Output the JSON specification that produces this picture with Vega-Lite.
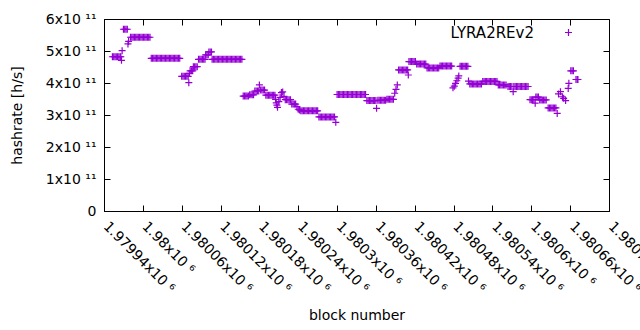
{
 "$schema": "https://vega.github.io/schema/vega-lite/v6.json",
 "autosize": {"type": "none"},
 "padding": {"left": 104, "top": 19, "right": 31, "bottom": 119},
 "width": 505,
 "height": 192,
 "background": "white",
 "config": {
  "view": {"stroke": "black", "strokeWidth": 1},
  "font": "DejaVu Sans",
  "axis": {"grid": false, "domainColor": "black", "domainWidth": 1, "tickColor": "black", "tickWidth": 1, "tickSize": -6, "labelColor": "black", "titleColor": "black", "labelFont": "DejaVu Sans", "titleFont": "DejaVu Sans", "labelFontSize": 14, "titleFontSize": 14, "titleFontWeight": "normal", "labelFlush": false, "labelOverlap": false, "labelBound": false}
 },
 "data": {"values": [
  {"b":1979953,"h":4.82e11},{"b":1979955,"h":4.82e11},{"b":1979957,"h":4.82e11},{"b":1979959,"h":4.82e11},{"b":1979961,"h":4.82e11},{"b":1979963,"h":4.82e11},{"b":1979965,"h":4.82e11},{"b":1979966,"h":4.82e11},
  {"b":1979967,"h":4.71e11},{"b":1979968,"h":5.01e11},
  {"b":1979970,"h":5.68e11},{"b":1979972,"h":5.68e11},{"b":1979974,"h":5.68e11},{"b":1979976,"h":5.68e11},
  {"b":1979977,"h":5.22e11},{"b":1979978,"h":5.30e11},
  {"b":1979981,"h":5.43e11},{"b":1979983,"h":5.43e11},{"b":1979985,"h":5.43e11},{"b":1979987,"h":5.43e11},{"b":1979989,"h":5.43e11},{"b":1979991,"h":5.43e11},{"b":1979993,"h":5.43e11},{"b":1979995,"h":5.43e11},{"b":1979997,"h":5.43e11},{"b":1979999,"h":5.43e11},{"b":1980001,"h":5.43e11},{"b":1980003,"h":5.43e11},{"b":1980005,"h":5.43e11},{"b":1980007,"h":5.43e11},{"b":1980009,"h":5.43e11},{"b":1980011,"h":5.43e11},
  {"b":1980013,"h":4.77e11},{"b":1980015,"h":4.77e11},{"b":1980017,"h":4.77e11},{"b":1980019,"h":4.77e11},{"b":1980021,"h":4.77e11},{"b":1980023,"h":4.77e11},{"b":1980025,"h":4.77e11},{"b":1980027,"h":4.77e11},{"b":1980029,"h":4.77e11},{"b":1980031,"h":4.77e11},{"b":1980033,"h":4.77e11},{"b":1980035,"h":4.77e11},{"b":1980037,"h":4.77e11},{"b":1980039,"h":4.77e11},{"b":1980041,"h":4.77e11},{"b":1980043,"h":4.77e11},{"b":1980045,"h":4.77e11},{"b":1980047,"h":4.77e11},{"b":1980049,"h":4.77e11},{"b":1980051,"h":4.77e11},{"b":1980053,"h":4.77e11},{"b":1980055,"h":4.77e11},{"b":1980057,"h":4.77e11},
  {"b":1980060,"h":4.21e11},{"b":1980062,"h":4.21e11},{"b":1980064,"h":4.21e11},{"b":1980066,"h":4.21e11},{"b":1980068,"h":4.21e11},{"b":1980070,"h":4.21e11},
  {"b":1980071,"h":4.01e11},{"b":1980072,"h":4.30e11},
  {"b":1980073,"h":4.38e11},{"b":1980075,"h":4.38e11},{"b":1980077,"h":4.38e11},
  {"b":1980078,"h":4.51e11},{"b":1980080,"h":4.51e11},{"b":1980082,"h":4.51e11},{"b":1980084,"h":4.51e11},
  {"b":1980086,"h":4.74e11},{"b":1980088,"h":4.74e11},{"b":1980090,"h":4.74e11},{"b":1980092,"h":4.74e11},{"b":1980094,"h":4.74e11},{"b":1980096,"h":4.74e11},
  {"b":1980097,"h":4.88e11},{"b":1980099,"h":4.88e11},{"b":1980101,"h":4.88e11},
  {"b":1980102,"h":4.97e11},{"b":1980104,"h":4.97e11},{"b":1980106,"h":4.97e11},
  {"b":1980107,"h":4.74e11},{"b":1980109,"h":4.74e11},{"b":1980111,"h":4.74e11},{"b":1980113,"h":4.74e11},{"b":1980115,"h":4.74e11},{"b":1980117,"h":4.74e11},{"b":1980119,"h":4.74e11},{"b":1980121,"h":4.74e11},{"b":1980123,"h":4.74e11},{"b":1980125,"h":4.74e11},{"b":1980127,"h":4.74e11},{"b":1980129,"h":4.74e11},{"b":1980131,"h":4.74e11},{"b":1980133,"h":4.74e11},{"b":1980135,"h":4.74e11},{"b":1980137,"h":4.74e11},{"b":1980139,"h":4.74e11},{"b":1980141,"h":4.74e11},{"b":1980143,"h":4.74e11},{"b":1980145,"h":4.74e11},{"b":1980147,"h":4.74e11},{"b":1980149,"h":4.74e11},{"b":1980151,"h":4.74e11},{"b":1980153,"h":4.74e11},
  {"b":1980155,"h":3.59e11},{"b":1980157,"h":3.59e11},{"b":1980159,"h":3.59e11},{"b":1980161,"h":3.59e11},{"b":1980163,"h":3.59e11},
  {"b":1980165,"h":3.63e11},{"b":1980167,"h":3.63e11},{"b":1980169,"h":3.63e11},{"b":1980171,"h":3.63e11},
  {"b":1980173,"h":3.75e11},{"b":1980175,"h":3.75e11},{"b":1980177,"h":3.75e11},{"b":1980179,"h":3.75e11},
  {"b":1980180,"h":3.94e11},
  {"b":1980182,"h":3.78e11},{"b":1980184,"h":3.78e11},{"b":1980186,"h":3.78e11},{"b":1980188,"h":3.78e11},
  {"b":1980190,"h":3.62e11},{"b":1980192,"h":3.62e11},{"b":1980194,"h":3.62e11},{"b":1980196,"h":3.62e11},{"b":1980198,"h":3.62e11},{"b":1980200,"h":3.62e11},{"b":1980202,"h":3.62e11},{"b":1980204,"h":3.62e11},
  {"b":1980205,"h":3.49e11},{"b":1980206,"h":3.38e11},{"b":1980207,"h":3.31e11},{"b":1980208,"h":3.24e11},{"b":1980210,"h":3.42e11},{"b":1980212,"h":3.55e11},{"b":1980214,"h":3.70e11},{"b":1980216,"h":3.72e11},{"b":1980218,"h":3.58e11},
  {"b":1980220,"h":3.48e11},{"b":1980222,"h":3.48e11},{"b":1980224,"h":3.48e11},{"b":1980226,"h":3.48e11},{"b":1980228,"h":3.48e11},
  {"b":1980230,"h":3.34e11},{"b":1980232,"h":3.34e11},{"b":1980234,"h":3.34e11},{"b":1980236,"h":3.34e11},
  {"b":1980238,"h":3.26e11},{"b":1980240,"h":3.18e11},{"b":1980242,"h":3.16e11},
  {"b":1980244,"h":3.13e11},{"b":1980246,"h":3.13e11},{"b":1980248,"h":3.13e11},{"b":1980250,"h":3.13e11},{"b":1980252,"h":3.13e11},{"b":1980254,"h":3.13e11},{"b":1980256,"h":3.13e11},{"b":1980258,"h":3.13e11},{"b":1980260,"h":3.13e11},{"b":1980262,"h":3.13e11},{"b":1980264,"h":3.13e11},{"b":1980266,"h":3.13e11},{"b":1980268,"h":3.13e11},{"b":1980270,"h":3.13e11},
  {"b":1980272,"h":2.94e11},{"b":1980274,"h":2.94e11},{"b":1980276,"h":2.94e11},{"b":1980278,"h":2.94e11},{"b":1980280,"h":2.94e11},{"b":1980282,"h":2.94e11},{"b":1980284,"h":2.94e11},{"b":1980286,"h":2.94e11},{"b":1980288,"h":2.94e11},{"b":1980290,"h":2.94e11},{"b":1980292,"h":2.94e11},{"b":1980294,"h":2.94e11},{"b":1980296,"h":2.94e11},
  {"b":1980298,"h":2.77e11},
  {"b":1980300,"h":3.64e11},{"b":1980302,"h":3.64e11},{"b":1980304,"h":3.64e11},{"b":1980306,"h":3.64e11},{"b":1980308,"h":3.64e11},{"b":1980310,"h":3.64e11},{"b":1980312,"h":3.64e11},{"b":1980314,"h":3.64e11},{"b":1980316,"h":3.64e11},{"b":1980318,"h":3.64e11},{"b":1980320,"h":3.64e11},{"b":1980322,"h":3.64e11},{"b":1980324,"h":3.64e11},{"b":1980326,"h":3.64e11},{"b":1980328,"h":3.64e11},{"b":1980330,"h":3.64e11},{"b":1980332,"h":3.64e11},{"b":1980334,"h":3.64e11},{"b":1980336,"h":3.64e11},{"b":1980338,"h":3.64e11},{"b":1980340,"h":3.64e11},{"b":1980342,"h":3.64e11},{"b":1980344,"h":3.64e11},
  {"b":1980346,"h":3.45e11},{"b":1980348,"h":3.45e11},{"b":1980350,"h":3.45e11},{"b":1980352,"h":3.45e11},{"b":1980354,"h":3.45e11},{"b":1980356,"h":3.45e11},{"b":1980358,"h":3.45e11},{"b":1980360,"h":3.45e11},
  {"b":1980361,"h":3.21e11},
  {"b":1980363,"h":3.46e11},{"b":1980365,"h":3.46e11},{"b":1980367,"h":3.46e11},{"b":1980369,"h":3.46e11},{"b":1980371,"h":3.46e11},{"b":1980373,"h":3.46e11},{"b":1980375,"h":3.46e11},{"b":1980377,"h":3.49e11},{"b":1980379,"h":3.49e11},{"b":1980381,"h":3.49e11},{"b":1980383,"h":3.49e11},{"b":1980385,"h":3.49e11},{"b":1980387,"h":3.49e11},
  {"b":1980389,"h":3.68e11},{"b":1980391,"h":3.80e11},{"b":1980393,"h":3.94e11},
  {"b":1980395,"h":4.41e11},{"b":1980397,"h":4.41e11},{"b":1980399,"h":4.41e11},{"b":1980401,"h":4.41e11},{"b":1980403,"h":4.41e11},{"b":1980405,"h":4.41e11},{"b":1980407,"h":4.41e11},{"b":1980409,"h":4.41e11},
  {"b":1980410,"h":4.25e11},
  {"b":1980411,"h":4.67e11},{"b":1980413,"h":4.67e11},{"b":1980415,"h":4.67e11},{"b":1980417,"h":4.67e11},{"b":1980419,"h":4.67e11},{"b":1980421,"h":4.67e11},
  {"b":1980423,"h":4.59e11},{"b":1980425,"h":4.59e11},{"b":1980427,"h":4.59e11},{"b":1980429,"h":4.59e11},{"b":1980431,"h":4.59e11},{"b":1980433,"h":4.59e11},{"b":1980435,"h":4.59e11},{"b":1980437,"h":4.59e11},
  {"b":1980439,"h":4.47e11},{"b":1980441,"h":4.47e11},{"b":1980443,"h":4.47e11},{"b":1980445,"h":4.47e11},{"b":1980447,"h":4.47e11},{"b":1980449,"h":4.47e11},{"b":1980451,"h":4.47e11},{"b":1980453,"h":4.47e11},{"b":1980455,"h":4.47e11},{"b":1980457,"h":4.47e11},
  {"b":1980459,"h":4.53e11},{"b":1980461,"h":4.53e11},{"b":1980463,"h":4.53e11},{"b":1980465,"h":4.53e11},{"b":1980467,"h":4.53e11},{"b":1980469,"h":4.53e11},{"b":1980471,"h":4.53e11},{"b":1980473,"h":4.53e11},{"b":1980475,"h":4.53e11},{"b":1980477,"h":4.53e11},
  {"b":1980479,"h":3.85e11},{"b":1980481,"h":3.90e11},{"b":1980483,"h":3.99e11},{"b":1980485,"h":4.07e11},{"b":1980487,"h":4.15e11},{"b":1980488,"h":4.22e11},
  {"b":1980490,"h":4.52e11},{"b":1980492,"h":4.52e11},{"b":1980494,"h":4.52e11},{"b":1980496,"h":4.52e11},{"b":1980498,"h":4.52e11},{"b":1980500,"h":4.52e11},{"b":1980502,"h":4.52e11},
  {"b":1980503,"h":4.06e11},
  {"b":1980505,"h":3.97e11},{"b":1980507,"h":3.97e11},{"b":1980509,"h":3.97e11},{"b":1980511,"h":3.97e11},{"b":1980513,"h":3.97e11},{"b":1980515,"h":3.97e11},{"b":1980517,"h":3.97e11},{"b":1980519,"h":3.97e11},{"b":1980521,"h":3.97e11},{"b":1980523,"h":3.97e11},
  {"b":1980525,"h":4.05e11},{"b":1980527,"h":4.05e11},{"b":1980529,"h":4.05e11},{"b":1980531,"h":4.05e11},{"b":1980533,"h":4.05e11},{"b":1980535,"h":4.05e11},{"b":1980537,"h":4.05e11},{"b":1980539,"h":4.05e11},{"b":1980541,"h":4.05e11},{"b":1980543,"h":4.05e11},{"b":1980545,"h":4.05e11},{"b":1980547,"h":4.05e11},
  {"b":1980549,"h":3.94e11},{"b":1980551,"h":3.94e11},{"b":1980553,"h":3.94e11},{"b":1980555,"h":3.94e11},{"b":1980557,"h":3.94e11},{"b":1980559,"h":3.94e11},{"b":1980561,"h":3.94e11},
  {"b":1980564,"h":3.89e11},{"b":1980566,"h":3.89e11},{"b":1980568,"h":3.89e11},{"b":1980570,"h":3.89e11},{"b":1980572,"h":3.73e11},{"b":1980573,"h":3.89e11},{"b":1980575,"h":3.89e11},{"b":1980577,"h":3.89e11},{"b":1980579,"h":3.89e11},{"b":1980581,"h":3.89e11},{"b":1980583,"h":3.89e11},{"b":1980585,"h":3.89e11},{"b":1980587,"h":3.89e11},{"b":1980589,"h":3.89e11},{"b":1980591,"h":3.89e11},{"b":1980593,"h":3.89e11},{"b":1980595,"h":3.89e11},
  {"b":1980598,"h":3.48e11},{"b":1980600,"h":3.48e11},{"b":1980602,"h":3.48e11},{"b":1980604,"h":3.48e11},
  {"b":1980606,"h":3.37e11},
  {"b":1980607,"h":3.56e11},{"b":1980609,"h":3.56e11},{"b":1980611,"h":3.56e11},
  {"b":1980613,"h":3.47e11},{"b":1980615,"h":3.47e11},{"b":1980617,"h":3.47e11},{"b":1980619,"h":3.47e11},{"b":1980621,"h":3.47e11},{"b":1980623,"h":3.47e11},
  {"b":1980626,"h":3.22e11},{"b":1980628,"h":3.22e11},{"b":1980630,"h":3.22e11},{"b":1980632,"h":3.22e11},{"b":1980634,"h":3.22e11},{"b":1980636,"h":3.22e11},{"b":1980638,"h":3.22e11},
  {"b":1980640,"h":3.05e11},
  {"b":1980642,"h":3.66e11},{"b":1980645,"h":3.73e11},{"b":1980648,"h":3.57e11},{"b":1980650,"h":3.52e11},{"b":1980653,"h":3.45e11},{"b":1980657,"h":3.83e11},{"b":1980658,"h":3.99e11},
  {"b":1980661,"h":4.38e11},{"b":1980663,"h":4.38e11},{"b":1980665,"h":4.38e11},
  {"b":1980669,"h":4.11e11},{"b":1980671,"h":4.11e11},{"b":1980672,"h":4.11e11}
 ]},
 "layer": [
  {
   "mark": {"type": "point", "shape": "M-1,0H1M0,-1V1", "filled": false, "strokeWidth": 1.2, "size": 49, "opacity": 1},
   "encoding": {
    "x": {"field": "b", "type": "quantitative", "scale": {"domain": [1979940, 1980720], "nice": false, "zero": false},
     "axis": {"orient": "bottom", "title": "block number", "values": [1979940,1980000,1980060,1980120,1980180,1980240,1980300,1980360,1980420,1980480,1980540,1980600,1980660,1980720], "labelExpr": "(datum.value/1e6) + 'x10 ⁶'", "labelAngle": 45, "labelAlign": "left", "labelBaseline": "top", "labelPadding": 14, "labelOffset": 6, "titlePadding": 13}},
    "y": {"field": "h", "type": "quantitative", "scale": {"domain": [0, 6e11], "nice": false, "zero": true},
     "axis": {"orient": "left", "title": "hashrate [h/s]", "values": [0,1e11,2e11,3e11,4e11,5e11,6e11], "labelExpr": "datum.value == 0 ? '0' : (datum.value/1e11) + 'x10 ¹¹'", "labelPadding": 14, "titlePadding": 21}},
    "color": {"datum": "LYRA2REv2", "type": "nominal", "scale": {"range": ["#9400d3"]},
     "legend": {"title": null, "orient": "none", "legendX": 457, "legendY": 6, "labelAlign": "right", "labelOffset": -42, "labelFontSize": 15, "labelFont": "DejaVu Sans", "labelColor": "black", "symbolType": "M-1,0H1M0,-1V1", "symbolSize": 49, "symbolStrokeWidth": 1.2, "symbolStrokeColor": "#9400d3", "symbolFillColor": "transparent"}}
   }
  },
  {
   "mark": {"type": "point", "opacity": 0},
   "encoding": {
    "x": {"field": "b", "type": "quantitative", "axis": {"orient": "top", "title": null, "labels": false, "domain": false, "values": [1979940,1980000,1980060,1980120,1980180,1980240,1980300,1980360,1980420,1980480,1980540,1980600,1980660,1980720]}},
    "y": {"field": "h", "type": "quantitative", "axis": {"orient": "right", "title": null, "labels": false, "domain": false, "values": [0,1e11,2e11,3e11,4e11,5e11,6e11]}}
   }
  }
 ],
 "resolve": {"axis": {"x": "independent", "y": "independent"}}
}
